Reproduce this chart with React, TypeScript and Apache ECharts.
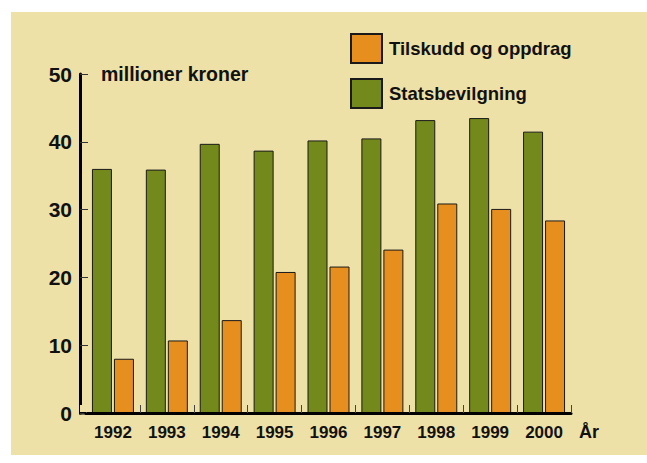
import React, { useEffect, useRef } from "react";
import * as echarts from "echarts";

const years = ["1992", "1993", "1994", "1995", "1996", "1997", "1998", "1999", "2000"];
const statsbevilgning = [36.0, 35.9, 39.7, 38.7, 40.2, 40.5, 43.2, 43.5, 41.5];
const tilskudd = [8.0, 10.7, 13.7, 20.8, 21.6, 24.1, 30.9, 30.1, 28.4];
const yTicks = { min: 0, max: 50, interval: 10 };

const GREEN = "#73891b";
const ORANGE = "#e68e1e";
const BG = "#ede1a8";
const FONT = "'Liberation Sans', Arial, sans-serif";

export default function App() {
  const ref = useRef<HTMLDivElement>(null);
  useEffect(() => {
    if (!ref.current) return;
    const chart = echarts.init(ref.current, undefined, { renderer: "svg" });
    chart.setOption({
      animation: false,
      backgroundColor: "transparent",
      textStyle: { fontFamily: FONT },
      grid: { left: 86, right: 76, top: 74, bottom: 50 },
      legend: {
        orient: "vertical",
        left: 345,
        top: 28,
        itemWidth: 31,
        itemHeight: 29,
        itemGap: 14,
        data: ["Tilskudd og oppdrag", "Statsbevilgning"],
        textStyle: { fontSize: 18.5, fontWeight: "bold", color: "#111", fontFamily: FONT, padding: [0, 0, 0, 2] },
        icon: "rect",
      },
      xAxis: {
        type: "category",
        data: years,
        z: 5,
        axisLine: { lineStyle: { color: "#000", width: 3 } },
        axisTick: {
          show: true,
          inside: true,
          length: 8,
          interval: 0,
          lineStyle: { color: "#444", width: 1 },
        },
        axisLabel: { fontSize: 17, fontWeight: "bold", color: "#111", margin: 11, fontFamily: FONT },
        name: "År",
        nameLocation: "end",
        nameGap: 8,
        nameTextStyle: {
          fontSize: 18,
          fontWeight: "bold",
          color: "#111",
          verticalAlign: "top",
          padding: [10, 0, 0, 0],
          fontFamily: FONT,
        },
      },
      yAxis: {
        type: "value",
        min: yTicks.min,
        max: yTicks.max,
        interval: yTicks.interval,
        offset: 6,
        axisLine: { show: true, lineStyle: { color: "#000", width: 3 } },
        axisTick: { show: true, inside: true, length: 8, lineStyle: { color: "#333", width: 1 } },
        splitLine: { show: false },
        axisLabel: { fontSize: 21, fontWeight: "bold", color: "#111", margin: 8, fontFamily: FONT },
        name: "millioner kroner",
        nameLocation: "end",
        nameGap: 0,
        nameTextStyle: {
          fontSize: 19.5,
          fontWeight: "bold",
          color: "#111",
          align: "left",
          verticalAlign: "middle",
          padding: [0, 0, 0, 21],
          fontFamily: FONT,
        },
      },
      series: [
        {
          name: "Statsbevilgning",
          type: "bar",
          data: statsbevilgning,
          barWidth: 20,
          barGap: "10%",
          itemStyle: { color: GREEN, borderColor: "#1a1a1a", borderWidth: 1 },
        },
        {
          name: "Tilskudd og oppdrag",
          type: "bar",
          data: tilskudd,
          barWidth: 20,
          barGap: "10%",
          itemStyle: { color: ORANGE, borderColor: "#1a1a1a", borderWidth: 1 },
        },
      ],
      graphic: [
        {
          type: "line",
          shape: { x1: 79, y1: 413, x2: 88, y2: 413 },
          style: { stroke: "#000", lineWidth: 3 },
        },
        {
          type: "rect",
          shape: { x: 80, y: 405, width: 8, height: 7 },
          style: { fill: BG },
          z: 100,
        },
      ],
    });
    return () => chart.dispose();
  }, []);
  return (
    <div style={{ position: "fixed", left: 0, top: 0, width: 647, height: 463, background: "#fff" }}>
      <div style={{ position: "absolute", left: 11, top: 12, width: 636, height: 443, background: BG }} />
      <div ref={ref} style={{ position: "absolute", left: 0, top: 0, width: 647, height: 463 }} />
    </div>
  );
}
